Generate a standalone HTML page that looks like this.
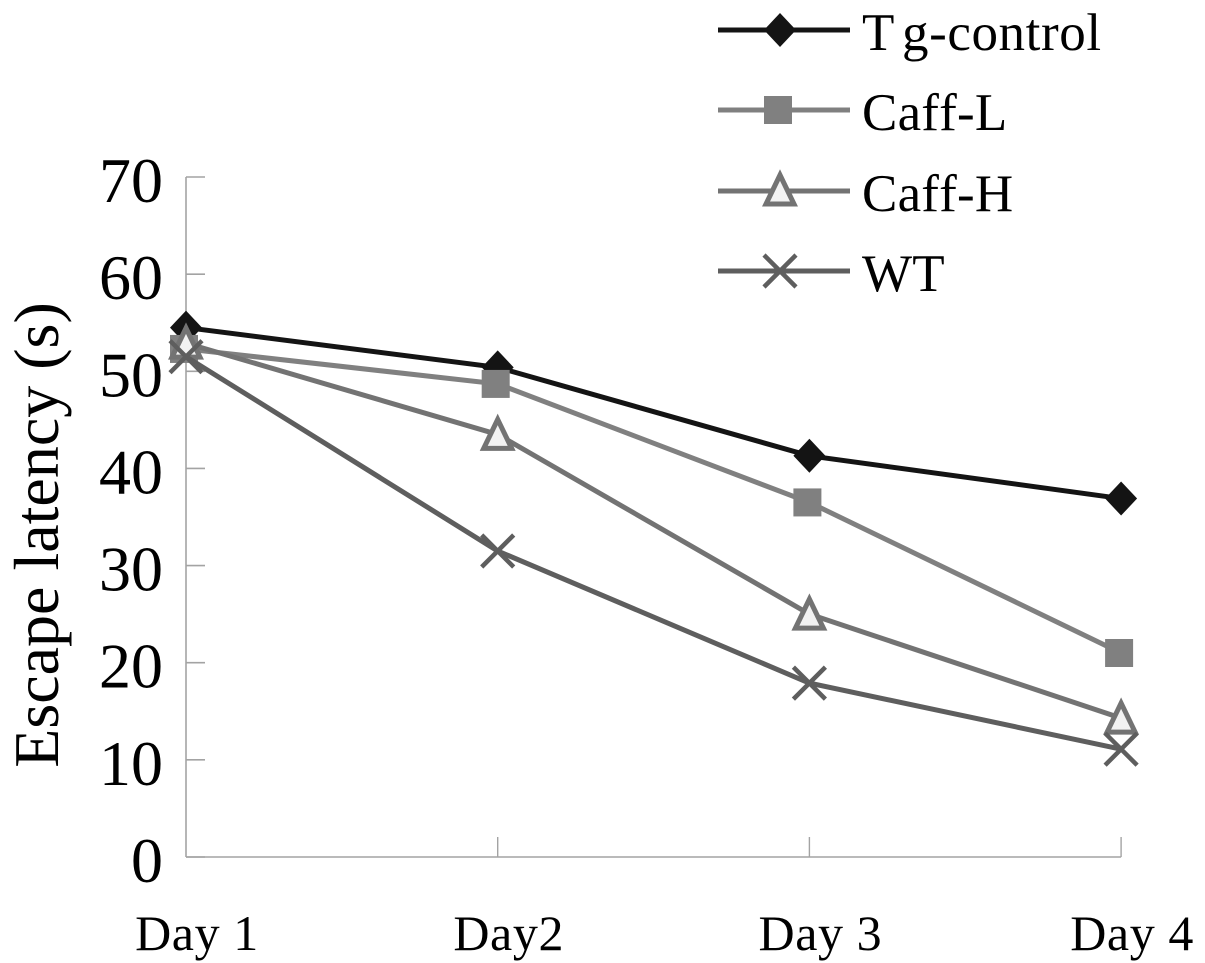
<!DOCTYPE html>
<html>
<head>
<meta charset="utf-8">
<style>
html,body{margin:0;padding:0;background:#fff;}
svg{display:block;}
text{font-family:"Liberation Serif",serif;fill:#000;font-kerning:none;}
</style>
</head>
<body>
<svg id="chart" width="1205" height="963" viewBox="0 0 1205 963" xmlns="http://www.w3.org/2000/svg"></svg>
<script>
const categories = ["Day 1", "Day2", "Day 3", "Day 4"];
const yTicks = [0, 10, 20, 30, 40, 50, 60, 70];
const seriesNames = ["Tg-control", "Caff-L", "Caff-H", "WT"];
const tgControl = [54.5, 50.4, 41.3, 36.9];
const caffL = [52.3, 48.7, 36.5, 21.0];
const caffH = [52.9, 43.5, 25.0, 14.3];
const wt = [51.5, 31.5, 17.9, 11.1];

const NS = "http://www.w3.org/2000/svg";
const svg = document.getElementById("chart");
const X0 = 186, XSTEP = 311.7, Y0 = 857, YTOP = 177, YMAX = 70;
const xPos = i => X0 + i * XSTEP;
const yPos = v => Y0 - (v / YMAX) * (Y0 - YTOP);

function make(tag, attrs, parent, text) {
  const el = document.createElementNS(NS, tag);
  for (const k in attrs) el.setAttribute(k, attrs[k]);
  if (text !== undefined) el.textContent = text;
  (parent || svg).appendChild(el);
  return el;
}

function drawMarker(g, kind, x, y, color) {
  if (kind === "diamond") {
    const p = make("polygon", {points: [x, y - 17, x + 16, y, x, y + 17, x - 16, y].join(","), fill: color}, g);
    
    
  } else if (kind === "square") {
    const p = make("rect", {x: x - 16, y: y - 14, width: 28, height: 28, fill: color}, g);
    
    
  } else if (kind === "triangle") {
    const p = make("polygon", {points: [x, y - 15, x + 14, y + 14, x - 14, y + 14].join(","), fill: "#f2f2f2", stroke: color, "stroke-width": 5}, g);
    
    
  } else {
    const p = make("path", {d: `M${x - 16} ${y - 16}L${x + 16} ${y + 16}M${x + 16} ${y - 16}L${x - 16} ${y + 16}`, fill: "none", stroke: color, "stroke-width": 4.5}, g);
    
    
  }
}

/* axes */
const axisColor = "#a3a3a3";
const yAxis = make("line", {x1: X0, y1: yPos(YMAX), x2: X0, y2: Y0, stroke: axisColor, "stroke-width": 1.6});


const xAxis = make("line", {x1: X0, y1: Y0, x2: xPos(categories.length - 1), y2: Y0, stroke: axisColor, "stroke-width": 1.6});



yTicks.forEach(v => {
  const t = make("line", {x1: X0, y1: yPos(v), x2: X0 + 19, y2: yPos(v), stroke: axisColor, "stroke-width": 1.6});
  
  
  const l = make("text", {x: 163, y: yPos(v) + 25, "text-anchor": "end", "font-size": 64}, svg, String(v));
  
  
});

categories.forEach((c, i) => {
  if (i > 0) {
    const t = make("line", {x1: xPos(i), y1: Y0 - 20, x2: xPos(i), y2: Y0, stroke: axisColor, "stroke-width": 1.4});
    
    
  }
  const l = make("text", {x: xPos(i) + 11, y: 950, "text-anchor": "middle", "font-size": 50, "letter-spacing": 0.6}, svg, c);
  
  
});

const yTitle = make("text", {transform: "translate(58,535) rotate(-90)", "text-anchor": "middle", "font-size": 64}, svg, "Escape latency (s)");



/* series */
const seriesValues = [tgControl, caffL, caffH, wt];
const seriesColors = ["#141414", "#808080", "#737373", "#5e5e5e"];
const seriesKinds = ["diamond", "square", "triangle", "cross"];
const drawOrder = [0, 1, 2, 3];

drawOrder.forEach(s => {
  const g = make("g", {});
  
  
  const pts = seriesValues[s].map((v, i) => xPos(i) + "," + yPos(v)).join(" ");
  const line = make("polyline", {points: pts, fill: "none", stroke: seriesColors[s], "stroke-width": 5}, g);
  
  
  seriesValues[s].forEach((v, i) => drawMarker(g, seriesKinds[s], xPos(i), yPos(v), seriesColors[s]));
});

/* legend */
const legendYs = [30, 110, 191, 271];
seriesNames.forEach((name, s) => {
  const g = make("g", {});
  
  
  const ly = legendYs[s];
  const line = make("line", {x1: 718, y1: ly, x2: 850, y2: ly, stroke: seriesColors[s], "stroke-width": 5}, g);
  
  
  drawMarker(g, seriesKinds[s], 780, ly + (s === 2 ? -1 : 0), seriesColors[s]);
  const t = make("text", {x: 862, y: ly + 20, "font-size": 53, "letter-spacing": s === 0 ? 0.6 : 0.2}, g);
  
  
  /* first letter is set apart from the rest, as in the source figure */
  const head = make("tspan", {}, t, name.slice(0, 1));
  
  
  const tail = make("tspan", {dx: s === 0 ? 7 : 0}, t, name.slice(1));
  
  
});
</script>
</body>
</html>
